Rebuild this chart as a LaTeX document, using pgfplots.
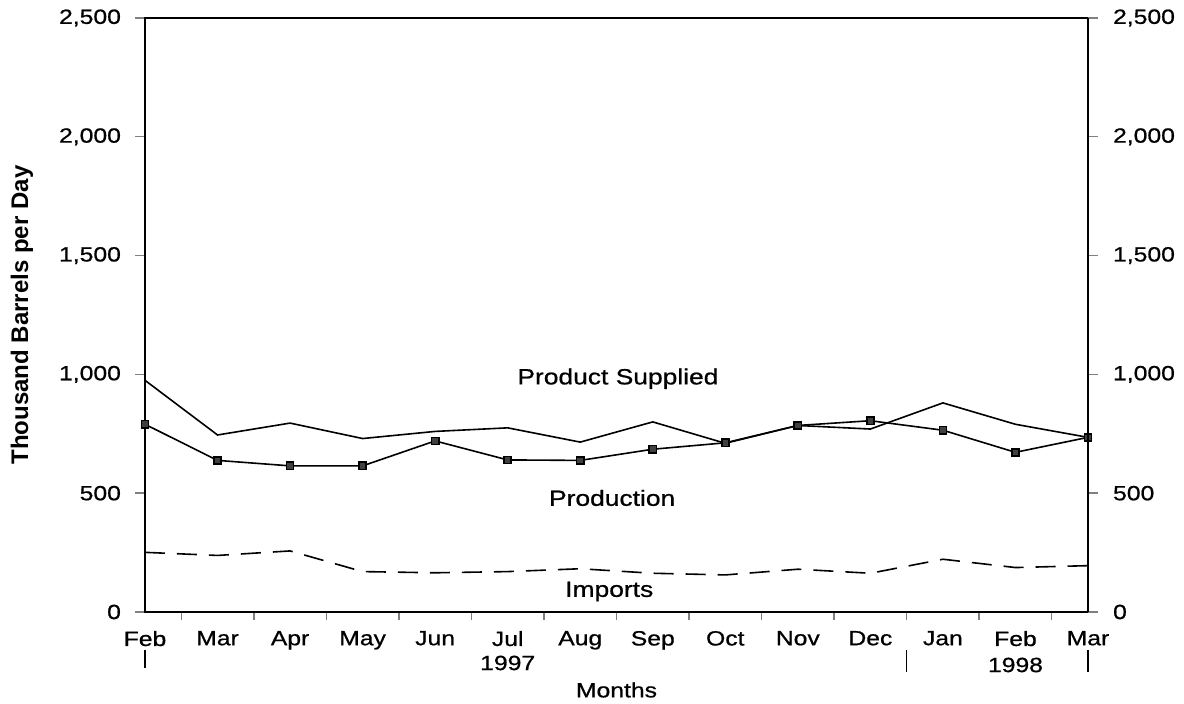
\documentclass[border=0pt]{standalone}
\usepackage{pgfplots}
\pgfplotsset{compat=1.18}
\usepackage{fontspec}
\setmainfont[FakeStretch=1.2,FakeBold=0.8]{Liberation Sans}
\newfontfamily\ylabfont{Liberation Sans}
\pgfplotstableread{
x ps prod imp
0 975 790 251
1 745 638 238
2 795 615 257
3 730 615 170
4 760 720 165
5 775 640 170
6 715 638 182
7 800 685 163
8 710 712 156
9 785 785 180
10 770 805 163
11 880 765 222
12 790 672 187
13 735 735 195
}\datatable
\begin{document}
\begin{tikzpicture}
\useasboundingbox (-72.5pt,-46pt) rectangle (519.5pt,306pt);
\begin{axis}[
  at={(0,0)}, anchor=south west,
  scale only axis, width=471.5pt, height=297pt,
  xmin=0, xmax=13, ymin=0, ymax=2500,
  axis line style={line width=0.9pt},
  tick align=outside,
  xtick={0,...,13},
  xticklabels={Feb,Mar,Apr,May,Jun,Jul,Aug,Sep,Oct,Nov,Dec,Jan,Feb,Mar},
  major x tick style={draw=none},
  minor xtick={0.5,1.5,...,12.5},
  minor tick length=4pt,
  minor x tick style={line width=0.7pt},
  xtick pos=bottom,
  ytick={0,500,...,2500},
  ytick pos=left,
  major tick length=5pt,
  major y tick style={line width=0.7pt},
  /pgf/number format/.cd, 1000 sep={,}, assume math mode=true,
  /pgfplots/.cd,
  ticklabel style={font=\fontsize{10.3}{12}\selectfont},
  xticklabel style={yshift=-1pt},
  yticklabel style={xshift=-3.5pt},
  ylabel={\ylabfont\bfseries Thousand Barrels per Day},
  ylabel style={at={(axis description cs:-0.1304,0.5)}, anchor=center, font=\fontsize{12}{14}\selectfont},
  clip=false,
]
\addplot[black, line width=0.8pt] table[x=x,y=ps] {\datatable};
\addplot[black, line width=0.8pt, mark=square*, mark size=1.8pt, mark options={fill=black!75, draw=black, solid}] table[x=x,y=prod] {\datatable};
\addplot[black, line width=0.8pt, dash pattern=on 10pt off 6pt] table[x=x,y=imp] {\datatable};
\node[font=\fontsize{11}{12}\selectfont] at (axis cs:6.52,982) {Product Supplied};
\node[font=\fontsize{11}{12}\selectfont] at (axis cs:6.44,480) {Production};
\node[font=\fontsize{11}{12}\selectfont] at (axis cs:6.4,86) {Imports};
\node[font=\fontsize{10.3}{12}\selectfont] at (axis cs:5,0) [yshift=-25.5pt] {1997};
\node[font=\fontsize{10.3}{12}\selectfont] at (axis cs:12,0) [yshift=-26.5pt] {1998};
\node[font=\fontsize{10.3}{12}\selectfont] at (axis cs:6.5,0) [yshift=-39pt] {Months};
\draw[line width=0.6pt] (axis cs:0,0) ++(0,-19pt) -- ++(0,-9pt);
\draw[line width=0.6pt] (axis cs:10.5,0) ++(0,-19pt) -- ++(0,-11pt);
\draw[line width=0.6pt] (axis cs:13,0) ++(0,-19pt) -- ++(0,-11pt);
\end{axis}
\begin{axis}[
  at={(0,0)}, anchor=south west,
  scale only axis, width=471.5pt, height=297pt,
  xmin=0, xmax=13, ymin=0, ymax=2500,
  axis x line=none,
  axis y line*=right,
  axis line style={line width=0.9pt, -},
  tick align=outside,
  ytick={0,500,...,2500},
  major tick length=5pt,
  major y tick style={line width=0.7pt},
  /pgf/number format/.cd, 1000 sep={,}, assume math mode=true,
  /pgfplots/.cd,
  ticklabel style={font=\fontsize{10.3}{12}\selectfont},
  yticklabel style={xshift=4pt},
]
\end{axis}
\end{tikzpicture}
\end{document}
